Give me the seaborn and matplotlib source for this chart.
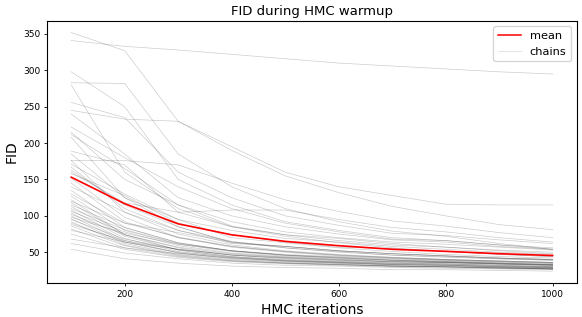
import numpy as np
import pandas as pd
import matplotlib
matplotlib.use("Agg")
import matplotlib.pyplot as plt
import seaborn as sns
from matplotlib.lines import Line2D

iters = [100, 200, 300, 400, 500, 600, 700, 800, 900, 1000]

# FID per chain
chains = [
    [352, 327, 230, 190, 155, 132, 113, 100, 88, 81],
    [341, 333, 328, 322, 316, 310, 306, 302, 298, 295],
    [298, 250, 150, 115, 92, 80, 70, 66, 60, 56],
    [283, 282, 185, 140, 110, 92, 79, 72, 62, 54],
    [280, 160, 110, 85, 72, 63, 56, 51, 47, 44],
    [256, 235, 160, 125, 100, 87, 76, 73, 67, 62],
    [245, 233, 230, 195, 160, 140, 128, 116, 115, 115],
    [240, 185, 125, 100, 85, 75, 67, 64, 58, 54],
    [222, 180, 140, 110, 90, 78, 68, 66, 60, 54],
    [215, 150, 115, 86, 74, 69, 62, 57, 53, 50],
    [212, 165, 115, 92, 78, 70, 64, 61, 57, 53],
    [208, 125, 95, 70, 63, 56, 51, 47, 44, 42],
    [189, 170, 105, 85, 74, 66, 60, 57, 52, 48],
    [185, 125, 85, 64, 58, 52, 48, 45, 42, 40],
    [176, 176, 170, 145, 122, 106, 93, 86, 77, 70],
    [176, 105, 75, 60, 52, 47, 43, 40, 38, 36],
    [171, 130, 95, 80, 69, 64, 58, 54, 50, 47],
    [167, 110, 80, 65, 56, 50, 46, 43, 41, 39],
    [160, 118, 105, 108, 108, 95, 84, 78, 70, 64],
    [152, 98, 70, 57, 50, 45, 42, 39, 37, 35],
    [145, 92, 70, 58, 51, 46, 43, 40, 38, 36],
    [140, 105, 80, 62, 58, 52, 48, 45, 42, 40],
    [163, 115, 85, 63, 58, 52, 48, 45, 42, 40],
    [158, 128, 90, 74, 64, 57, 55, 51, 47, 44],
    [135, 84, 63, 52, 46, 42, 39, 37, 35, 33],
    [130, 90, 71, 58, 51, 46, 42, 40, 38, 36],
    [127, 80, 61, 51, 45, 42, 39, 37, 35, 33],
    [122, 74, 56, 46, 41, 38, 35, 34, 32, 30],
    [120, 90, 77, 64, 56, 51, 46, 44, 41, 39],
    [118, 74, 53, 44, 39, 36, 34, 33, 31, 29],
    [115, 84, 63, 52, 46, 43, 40, 38, 36, 34],
    [113, 72, 53, 44, 40, 37, 35, 34, 32, 30],
    [110, 81, 62, 52, 47, 44, 41, 39, 37, 35],
    [108, 69, 51, 43, 38, 36, 33, 32, 30, 28],
    [106, 78, 59, 49, 44, 41, 38, 36, 34, 32],
    [104, 66, 49, 41, 37, 35, 32, 31, 29, 27],
    [102, 74, 57, 48, 43, 40, 37, 36, 34, 32],
    [100, 64, 49, 42, 38, 36, 33, 32, 30, 29],
    [98, 76, 61, 52, 46, 43, 39, 37, 35, 33],
    [96, 62, 47, 40, 36, 34, 31, 30, 29, 27],
    [95, 68, 54, 46, 42, 39, 36, 35, 33, 31],
    [92, 60, 46, 39, 35, 33, 31, 30, 28, 27],
    [90, 64, 50, 43, 39, 37, 34, 33, 31, 30],
    [88, 66, 54, 46, 42, 39, 37, 36, 34, 32],
    [86, 59, 45, 38, 35, 33, 31, 30, 28, 27],
    [82, 56, 44, 38, 35, 33, 31, 30, 29, 28],
    [80, 64, 54, 47, 43, 40, 37, 36, 34, 33],
    [75, 54, 43, 37, 34, 32, 30, 29, 28, 27],
    [68, 56, 48, 42, 38, 35, 33, 32, 30, 29],
    [62, 49, 41, 35, 32, 31, 29, 28, 27, 26],
    [54, 41, 35, 31, 29, 28, 26, 26, 25, 24],
]

rows = []
for i, c in enumerate(chains):
    for it, v in zip(iters, c):
        rows.append({"iter": it, "fid": v, "chain": i})
df = pd.DataFrame(rows)
mean_df = df.groupby("iter", as_index=False)["fid"].mean()

fig = plt.figure(figsize=(5.82, 3.17), dpi=100)
ax = fig.add_axes([0.081, 0.107, 0.910, 0.828])

sns.lineplot(data=df, x="iter", y="fid", units="chain", estimator=None,
             color="black", alpha=0.2, lw=0.5, legend=False, ax=ax)
sns.lineplot(data=mean_df, x="iter", y="fid", color="red", lw=1.2,
             legend=False, ax=ax)

handles = [Line2D([], [], color="red", lw=1.1),
           Line2D([], [], color="black", alpha=0.1, lw=0.8)]
ax.legend(handles, ["mean", "chains"], loc="upper right", fontsize=8.2)

ax.set_title("FID during HMC warmup", fontsize=9.5, pad=4)
ax.set_xlabel("HMC iterations", fontsize=10, labelpad=3)
ax.set_ylabel("FID", fontsize=10, labelpad=3)
ax.tick_params(labelsize=6.5, length=2.5, width=0.6, pad=2.5)
for s in ax.spines.values():
    s.set_linewidth(0.8)

fig.savefig("out.png", dpi=100)
